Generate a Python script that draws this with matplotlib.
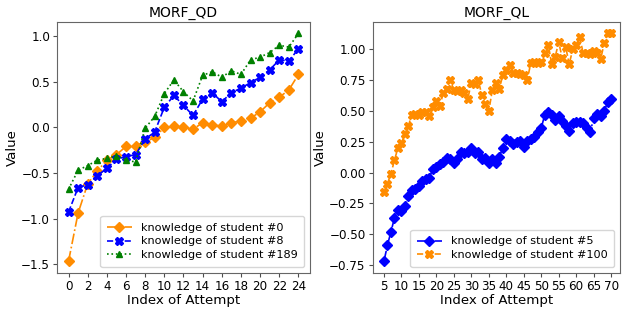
import numpy as np
import matplotlib
matplotlib.use("Agg")
import matplotlib.pyplot as plt

# MORF_QD
qd_x = list(range(0, 25))
qd_s0 = [-1.47, -0.94, -0.62, -0.48, -0.36, -0.30, -0.21, -0.20, -0.16, -0.11,
         0.00, 0.01, 0.00, -0.02, 0.05, 0.03, 0.01, 0.05, 0.07, 0.10,
         0.17, 0.27, 0.33, 0.41, 0.58]
qd_s8 = [-0.93, -0.66, -0.63, -0.53, -0.45, -0.35, -0.32, -0.30, -0.13, -0.05,
         0.22, 0.35, 0.24, 0.13, 0.31, 0.38, 0.28, 0.38, 0.43, 0.49,
         0.55, 0.63, 0.74, 0.73, 0.86]
qd_s189 = [-0.68, -0.47, -0.42, -0.36, -0.34, -0.31, -0.36, -0.38, -0.01, 0.12,
           0.37, 0.52, 0.39, 0.29, 0.57, 0.61, 0.55, 0.62, 0.58, 0.74,
           0.77, 0.82, 0.90, 0.88, 1.03]

# MORF_QL
ql_x = list(range(5, 71))
ql_s5 = [-0.72, -0.59, -0.48, -0.37, -0.30, -0.31, -0.27, -0.19, -0.14, -0.13,
         -0.11, -0.07, -0.05, -0.04, 0.03, 0.05, 0.07, 0.09, 0.12, 0.11,
         0.08, 0.11, 0.17, 0.16, 0.17, 0.20, 0.16, 0.17, 0.11, 0.12,
         0.08, 0.11, 0.08, 0.13, 0.20, 0.27, 0.26, 0.23, 0.25, 0.26,
         0.21, 0.26, 0.27, 0.29, 0.33, 0.36, 0.47, 0.49, 0.47, 0.43,
         0.46, 0.42, 0.38, 0.34, 0.40, 0.41, 0.41, 0.40, 0.36, 0.33,
         0.44, 0.48, 0.46, 0.50, 0.57, 0.60]
ql_s100 = [-0.16, -0.09, -0.01, 0.10, 0.20, 0.24, 0.31, 0.38, 0.47, 0.48,
           0.47, 0.49, 0.49, 0.46, 0.53, 0.58, 0.54, 0.65, 0.68, 0.75,
           0.67, 0.66, 0.67, 0.65, 0.60, 0.73, 0.72, 0.75, 0.63, 0.56,
           0.50, 0.67, 0.73, 0.68, 0.79, 0.83, 0.87, 0.81, 0.81, 0.80,
           0.79, 0.75, 0.89, 0.90, 0.89, 0.90, 0.97, 1.04, 0.88, 0.94,
           1.06, 0.93, 1.02, 0.88, 1.00, 1.04, 1.10, 0.97, 0.97, 0.96,
           0.99, 0.97, 0.92, 1.05, 1.13, 1.13]

fig = plt.figure(figsize=(6.23, 3.10), dpi=100)
ax1 = fig.add_axes([0.0915, 0.120, 0.406, 0.809])
ax2 = fig.add_axes([0.598, 0.120, 0.397, 0.809])

ms = 4.6
lw = 1.2
ax1.plot(qd_x, qd_s0, color="darkorange", linestyle="-.", marker="D", markersize=ms,
         linewidth=lw, label="knowledge of student #0")
ax1.plot(qd_x, qd_s8, color="blue", linestyle="--", marker="X", markersize=ms + 1,
         linewidth=lw, label="knowledge of student #8")
ax1.plot(qd_x, qd_s189, color="green", linestyle=":", marker="^", markersize=ms,
         linewidth=lw, label="knowledge of student #189")
ax1.set_xticks(range(0, 25, 2))
ax1.set_yticks([-1.5, -1.0, -0.5, 0.0, 0.5, 1.0])
ax1.set_title("MORF_QD", fontsize=10, pad=4)
ax1.set_xlabel("Index of Attempt", fontsize=9.6, labelpad=1)
ax1.set_ylabel("Value", fontsize=9.6, labelpad=2)
ax1.legend(loc="lower right", fontsize=8.1, handlelength=2.2, borderpad=0.6,
           labelspacing=0.35)

ax2.plot(ql_x, ql_s5, color="blue", linestyle="-.", marker="D", markersize=ms,
         linewidth=lw, label="knowledge of student #5")
ax2.plot(ql_x, ql_s100, color="darkorange", linestyle="--", marker="X", markersize=ms + 1,
         linewidth=lw, label="knowledge of student #100")
ax2.set_xticks(range(5, 71, 5))
ax2.set_xlim(1.75, 72.5)
ax2.set_yticks([-0.75, -0.5, -0.25, 0.0, 0.25, 0.5, 0.75, 1.0])
ax2.set_title("MORF_QL", fontsize=10, pad=4)
ax2.set_xlabel("Index of Attempt", fontsize=9.6, labelpad=1)
ax2.set_ylabel("Value", fontsize=9.6, labelpad=2)
ax2.legend(loc="lower right", fontsize=8.1, handlelength=2.2, borderpad=0.6,
           labelspacing=0.35)

for ax in (ax1, ax2):
    ax.tick_params(labelsize=8.6, length=3, pad=2, color="0.3")
    for sp in ax.spines.values():
        sp.set_color("0.4")

fig.savefig("out.png", dpi=100)
